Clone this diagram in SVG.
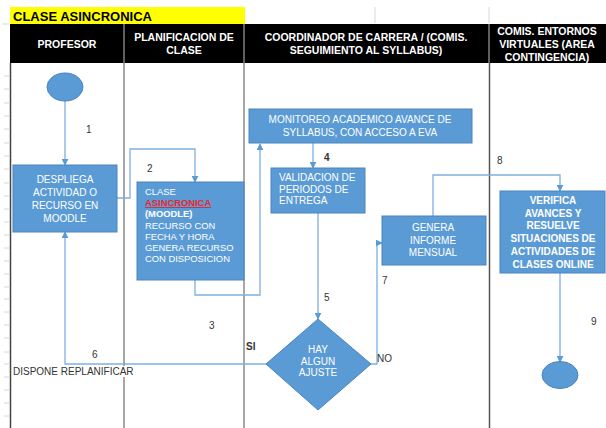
<svg xmlns="http://www.w3.org/2000/svg" width="606" height="428" viewBox="0 0 606 428">
<style>
text{font-family:"Liberation Sans",Arial,sans-serif}
.hd{fill:#fff;font-weight:bold;font-size:10.5px;text-anchor:middle}
.box{fill:#5b9bd5;stroke:#4a84bf;stroke-width:1}
.bt{fill:#fff;font-size:10px}
.c{text-anchor:middle}
.lbl{fill:#333;font-size:10px}
.con{fill:none;stroke:#80aee0;stroke-width:1.3}
.lane{stroke:#8a8a8a;stroke-width:1.5}
.tick{stroke:#d8d8d8;stroke-width:1}
</style>
<defs>
<marker id="ah" viewBox="0 0 10 10" refX="9" refY="5" markerWidth="7" markerHeight="7" markerUnits="userSpaceOnUse" orient="auto">
<path d="M0,0 L10,5 L0,10 z" fill="#5b9bd5"/>
</marker>
</defs>
<rect width="606" height="428" fill="#fff"/>
<g id="grid">
<path class="tick" d="M375 7V23M489 7V23M2 24H9M4 76H9M4 89H9M4 103H9M4 116H9M4 129H9M4 143H9M4 156H9M4 169H9M4 183H9M4 196H9M4 209H9M4 222H9M4 235H9M4 248H9M4 261H9M4 274H9M4 287H9M4 299H9M4 312H9M4 325H9M4 338H9M4 352H9M4 364H9M4 377H9M4 390H9M4 403H9M4 416H9"/>
</g>
<g id="title">
<rect x="10" y="7" width="235" height="17" fill="#ffff00"/>
<text x="13" y="21" font-size="13" font-weight="bold" fill="#000">CLASE ASINCRONICA</text>
</g>
<g id="header">
<rect x="10" y="24" width="596" height="39" fill="#000"/>
<path d="M124 24V63M244 24V63M489 24V63" stroke="#7f7f7f" stroke-width="1.5"/>
<text class="hd" x="67" y="48">PROFESOR</text>
<text class="hd" x="184" y="41">PLANIFICACION DE</text>
<text class="hd" x="184" y="54">CLASE</text>
<text class="hd" x="366" y="41">COORDINADOR DE CARRERA / (COMIS.</text>
<text class="hd" x="366" y="54">SEGUIMIENTO AL SYLLABUS)</text>
<text class="hd" x="547" y="35">COMIS. ENTORNOS</text>
<text class="hd" x="547" y="48">VIRTUALES (AREA</text>
<text class="hd" x="547" y="61">CONTINGENCIA)</text>
</g>
<g id="lanes">
<path d="M10.5 63V428" stroke="#444" stroke-width="1.5"/>
<path class="lane" d="M124 63V428M244 63V428"/>
<path d="M489.5 63V428" stroke="#555" stroke-width="1.5"/>
</g>
<g id="connectors">
<path class="con" marker-end="url(#ah)" d="M65 101V165"/>
<path class="con" marker-end="url(#ah)" d="M117 198H130V149H195V182"/>
<path class="con" marker-end="url(#ah)" d="M195 280V295H260V144"/>
<path class="con" marker-end="url(#ah)" d="M313 143V168"/>
<path class="con" marker-end="url(#ah)" d="M318 213V319"/>
<path class="con" marker-end="url(#ah)" d="M371 364H377V243H382"/>
<path class="con" marker-end="url(#ah)" d="M433 216V175H560V191"/>
<path class="con" marker-end="url(#ah)" d="M560 273V362"/>
<path class="con" marker-end="url(#ah)" d="M266 364H65V232"/>
</g>
<g id="start">
<ellipse cx="65" cy="87" rx="18" ry="14" fill="#5b9bd5" stroke="#4a84bf"/>
</g>
<g id="despliega">
<rect class="box" x="13" y="165" width="104" height="67"/>
<text class="bt c" x="65" y="183">DESPLIEGA</text>
<text class="bt c" x="65" y="196">ACTIVIDAD O</text>
<text class="bt c" x="65" y="209">RECURSO EN</text>
<text class="bt c" x="65" y="222">MOODLE</text>
</g>
<g id="clase">
<rect class="box" x="137" y="182" width="107" height="98"/>
<g font-size="9.4" fill="#fff">
<text x="145" y="195">CLASE</text>
<text x="145" y="206" fill="#e8272a" font-weight="bold" text-decoration="underline">ASINCRONICA</text>
<text x="145" y="217" font-weight="bold">(MOODLE)</text>
<text x="145" y="229">RECURSO CON</text>
<text x="145" y="240">FECHA Y HORA</text>
<text x="145" y="251">GENERA RECURSO</text>
<text x="145" y="262">CON DISPOSICION</text>
</g>
</g>
<g id="monitoreo">
<rect class="box" x="249" y="109" width="223" height="34"/>
<text class="bt c" x="360" y="123" font-size="11">MONITOREO ACADEMICO AVANCE DE</text>
<text class="bt c" x="360" y="136" font-size="11">SYLLABUS, CON ACCESO A EVA</text>
</g>
<g id="validacion">
<rect class="box" x="271" y="168" width="94" height="45"/>
<text class="bt" x="279" y="181" font-size="9.6">VALIDACION DE</text>
<text class="bt" x="279" y="193" font-size="9.6">PERIODOS DE</text>
<text class="bt" x="279" y="204" font-size="9.6">ENTREGA</text>
</g>
<g id="decision">
<path d="M318 319L371 364L318 410L266 364Z" fill="#5b9bd5" stroke="#4a84bf"/>
<text class="bt c" x="318" y="353" font-size="9.3">HAY</text>
<text class="bt c" x="318" y="365" font-size="9.3">ALGUN</text>
<text class="bt c" x="318" y="376" font-size="9.3">AJUSTE</text>
</g>
<g id="genera">
<rect class="box" x="382" y="216" width="104" height="49"/>
<text class="bt c" x="433" y="231" font-size="10.5">GENERA</text>
<text class="bt c" x="433" y="244" font-size="10.5">INFORME</text>
<text class="bt c" x="433" y="256" font-size="10.5">MENSUAL</text>
</g>
<g id="verifica">
<rect class="box" x="500" y="191" width="105" height="82"/>
<g font-size="10" font-weight="bold" fill="#fff" text-anchor="middle">
<text x="553" y="204">VERIFICA</text>
<text x="553" y="217">AVANCES Y</text>
<text x="553" y="229">RESUELVE</text>
<text x="553" y="242">SITUACIONES DE</text>
<text x="553" y="255">ACTIVIDADES DE</text>
<text x="553" y="268">CLASES ONLINE</text>
</g>
</g>
<g id="end">
<ellipse cx="560" cy="375" rx="18" ry="13.5" fill="#5b9bd5" stroke="#4a84bf"/>
</g>
<g id="labels">
<text class="lbl" x="86" y="133">1</text>
<text class="lbl" x="147" y="172">2</text>
<text class="lbl" x="209" y="329">3</text>
<text class="lbl" x="324" y="161" font-weight="bold">4</text>
<text class="lbl" x="324" y="301">5</text>
<text class="lbl" x="92" y="358">6</text>
<text class="lbl" x="382" y="284">7</text>
<text class="lbl" x="497" y="164">8</text>
<text class="lbl" x="591" y="325">9</text>
<text class="lbl" x="246" y="350" font-weight="bold" fill="#111">SI</text>
<text class="lbl" x="377" y="362">NO</text>
<rect x="12" y="366" width="128" height="11" fill="#fff"/>
<text class="lbl" x="13" y="375" font-size="10.4">DISPONE REPLANIFICAR</text>
</g>
</svg>
